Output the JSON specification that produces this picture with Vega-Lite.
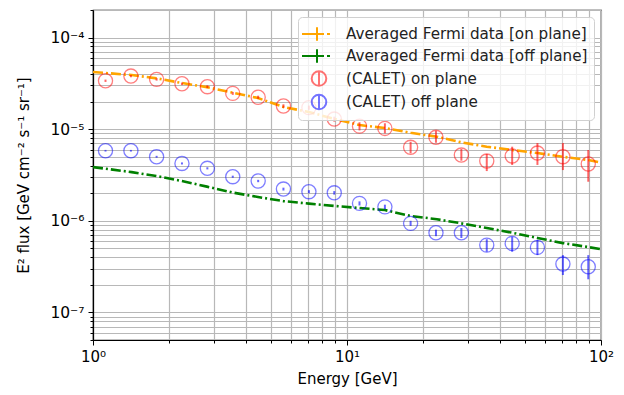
{
  "$schema": "https://vega.github.io/schema/vega-lite/v6.json",
  "width": 508,
  "height": 330,
  "autosize": {"type": "none"},
  "padding": {"left": 93, "top": 10, "right": 23, "bottom": 55},
  "config": {
    "font": "DejaVu Sans",
    "view": {"stroke": "black", "strokeWidth": 1.2},
    "axis": {
      "labelFont": "DejaVu Sans", "titleFont": "DejaVu Sans",
      "labelFontSize": 15, "titleFontSize": 15, "titleFontWeight": "normal",
      "labelColor": "black", "titleColor": "black",
      "gridColor": "#b8b8b8", "gridWidth": 1.2, "gridOpacity": 1,
      "domainColor": "black", "tickColor": "black", "domainWidth": 1.2
    },
    "legend": {"labelFont": "DejaVu Sans", "labelFontSize": 15.2, "labelColor": "#222"}
  },
  "datasets": {
    "fermi": [
      {"E": 1.0, "flux": 4.21e-5, "series": "Averaged Fermi data [on plane]"},
      {"E": 1.42, "flux": 3.90e-5, "series": "Averaged Fermi data [on plane]"},
      {"E": 1.78, "flux": 3.59e-5, "series": "Averaged Fermi data [on plane]"},
      {"E": 2.24, "flux": 3.19e-5, "series": "Averaged Fermi data [on plane]"},
      {"E": 2.81, "flux": 2.88e-5, "series": "Averaged Fermi data [on plane]"},
      {"E": 3.56, "flux": 2.50e-5, "series": "Averaged Fermi data [on plane]"},
      {"E": 4.46, "flux": 2.19e-5, "series": "Averaged Fermi data [on plane]"},
      {"E": 5.61, "flux": 1.75e-5, "series": "Averaged Fermi data [on plane]"},
      {"E": 7.08, "flux": 1.54e-5, "series": "Averaged Fermi data [on plane]"},
      {"E": 8.96, "flux": 1.29e-5, "series": "Averaged Fermi data [on plane]"},
      {"E": 11.2, "flux": 1.11e-5, "series": "Averaged Fermi data [on plane]"},
      {"E": 14.1, "flux": 1.03e-5, "series": "Averaged Fermi data [on plane]"},
      {"E": 17.8, "flux": 9.14e-6, "series": "Averaged Fermi data [on plane]"},
      {"E": 22.6, "flux": 8.28e-6, "series": "Averaged Fermi data [on plane]"},
      {"E": 28.2, "flux": 7.19e-6, "series": "Averaged Fermi data [on plane]"},
      {"E": 35.5, "flux": 6.44e-6, "series": "Averaged Fermi data [on plane]"},
      {"E": 44.7, "flux": 5.93e-6, "series": "Averaged Fermi data [on plane]"},
      {"E": 56.2, "flux": 5.49e-6, "series": "Averaged Fermi data [on plane]"},
      {"E": 70.8, "flux": 5.00e-6, "series": "Averaged Fermi data [on plane]"},
      {"E": 89.1, "flux": 4.60e-6, "series": "Averaged Fermi data [on plane]"},
      {"E": 100, "flux": 4.31e-6, "series": "Averaged Fermi data [on plane]"},
      {"E": 1.0, "flux": 3.86e-6, "series": "Averaged Fermi data [off plane]"},
      {"E": 1.42, "flux": 3.40e-6, "series": "Averaged Fermi data [off plane]"},
      {"E": 1.78, "flux": 3.08e-6, "series": "Averaged Fermi data [off plane]"},
      {"E": 2.24, "flux": 2.72e-6, "series": "Averaged Fermi data [off plane]"},
      {"E": 2.81, "flux": 2.36e-6, "series": "Averaged Fermi data [off plane]"},
      {"E": 3.56, "flux": 2.03e-6, "series": "Averaged Fermi data [off plane]"},
      {"E": 4.46, "flux": 1.82e-6, "series": "Averaged Fermi data [off plane]"},
      {"E": 5.61, "flux": 1.64e-6, "series": "Averaged Fermi data [off plane]"},
      {"E": 7.08, "flux": 1.54e-6, "series": "Averaged Fermi data [off plane]"},
      {"E": 8.96, "flux": 1.45e-6, "series": "Averaged Fermi data [off plane]"},
      {"E": 11.2, "flux": 1.38e-6, "series": "Averaged Fermi data [off plane]"},
      {"E": 14.1, "flux": 1.31e-6, "series": "Averaged Fermi data [off plane]"},
      {"E": 17.8, "flux": 1.13e-6, "series": "Averaged Fermi data [off plane]"},
      {"E": 22.6, "flux": 1.04e-6, "series": "Averaged Fermi data [off plane]"},
      {"E": 28.2, "flux": 9.38e-7, "series": "Averaged Fermi data [off plane]"},
      {"E": 35.5, "flux": 8.34e-7, "series": "Averaged Fermi data [off plane]"},
      {"E": 44.7, "flux": 7.41e-7, "series": "Averaged Fermi data [off plane]"},
      {"E": 56.2, "flux": 6.50e-7, "series": "Averaged Fermi data [off plane]"},
      {"E": 70.8, "flux": 5.71e-7, "series": "Averaged Fermi data [off plane]"},
      {"E": 89.1, "flux": 5.17e-7, "series": "Averaged Fermi data [off plane]"},
      {"E": 100, "flux": 4.89e-7, "series": "Averaged Fermi data [off plane]"}
    ],
    "calet": [
      {"E": 1.12, "flux": 3.38e-5, "lo": 3.28e-5, "hi": 3.48e-5, "series": "(CALET) on plane"},
      {"E": 1.41, "flux": 3.80e-5, "lo": 3.69e-5, "hi": 3.91e-5, "series": "(CALET) on plane"},
      {"E": 1.78, "flux": 3.50e-5, "lo": 3.39e-5, "hi": 3.61e-5, "series": "(CALET) on plane"},
      {"E": 2.24, "flux": 3.13e-5, "lo": 3.03e-5, "hi": 3.23e-5, "series": "(CALET) on plane"},
      {"E": 2.82, "flux": 2.91e-5, "lo": 2.81e-5, "hi": 3.01e-5, "series": "(CALET) on plane"},
      {"E": 3.55, "flux": 2.46e-5, "lo": 2.37e-5, "hi": 2.55e-5, "series": "(CALET) on plane"},
      {"E": 4.47, "flux": 2.23e-5, "lo": 2.14e-5, "hi": 2.32e-5, "series": "(CALET) on plane"},
      {"E": 5.62, "flux": 1.79e-5, "lo": 1.71e-5, "hi": 1.87e-5, "series": "(CALET) on plane"},
      {"E": 7.08, "flux": 1.72e-5, "lo": 1.63e-5, "hi": 1.81e-5, "series": "(CALET) on plane"},
      {"E": 8.91, "flux": 1.29e-5, "lo": 1.21e-5, "hi": 1.37e-5, "series": "(CALET) on plane"},
      {"E": 11.2, "flux": 1.08e-5, "lo": 9.7e-6, "hi": 1.19e-5, "series": "(CALET) on plane"},
      {"E": 14.1, "flux": 1.02e-5, "lo": 9.0e-6, "hi": 1.16e-5, "series": "(CALET) on plane"},
      {"E": 17.8, "flux": 6.34e-6, "lo": 5.45e-6, "hi": 7.29e-6, "series": "(CALET) on plane"},
      {"E": 22.4, "flux": 8.15e-6, "lo": 7.11e-6, "hi": 9.62e-6, "series": "(CALET) on plane"},
      {"E": 28.2, "flux": 5.22e-6, "lo": 4.53e-6, "hi": 6.08e-6, "series": "(CALET) on plane"},
      {"E": 35.5, "flux": 4.49e-6, "lo": 3.49e-6, "hi": 5.36e-6, "series": "(CALET) on plane"},
      {"E": 44.7, "flux": 5.10e-6, "lo": 4.07e-6, "hi": 6.44e-6, "series": "(CALET) on plane"},
      {"E": 56.2, "flux": 5.49e-6, "lo": 4.07e-6, "hi": 7.06e-6, "series": "(CALET) on plane"},
      {"E": 70.8, "flux": 5.01e-6, "lo": 3.58e-6, "hi": 7.06e-6, "series": "(CALET) on plane"},
      {"E": 89.1, "flux": 4.17e-6, "lo": 2.67e-6, "hi": 5.93e-6, "series": "(CALET) on plane"},
      {"E": 1.12, "flux": 5.82e-6, "lo": 5.7e-6, "hi": 5.94e-6, "series": "(CALET) off plane"},
      {"E": 1.41, "flux": 5.82e-6, "lo": 5.7e-6, "hi": 5.94e-6, "series": "(CALET) off plane"},
      {"E": 1.78, "flux": 5.00e-6, "lo": 4.88e-6, "hi": 5.12e-6, "series": "(CALET) off plane"},
      {"E": 2.24, "flux": 4.23e-6, "lo": 4.12e-6, "hi": 4.34e-6, "series": "(CALET) off plane"},
      {"E": 2.82, "flux": 3.74e-6, "lo": 3.64e-6, "hi": 3.84e-6, "series": "(CALET) off plane"},
      {"E": 3.55, "flux": 3.03e-6, "lo": 2.95e-6, "hi": 3.11e-6, "series": "(CALET) off plane"},
      {"E": 4.47, "flux": 2.72e-6, "lo": 2.64e-6, "hi": 2.80e-6, "series": "(CALET) off plane"},
      {"E": 5.62, "flux": 2.22e-6, "lo": 2.14e-6, "hi": 2.30e-6, "series": "(CALET) off plane"},
      {"E": 7.08, "flux": 2.08e-6, "lo": 2.0e-6, "hi": 2.16e-6, "series": "(CALET) off plane"},
      {"E": 8.91, "flux": 2.02e-6, "lo": 1.93e-6, "hi": 2.11e-6, "series": "(CALET) off plane"},
      {"E": 11.2, "flux": 1.55e-6, "lo": 1.47e-6, "hi": 1.63e-6, "series": "(CALET) off plane"},
      {"E": 14.1, "flux": 1.42e-6, "lo": 1.34e-6, "hi": 1.50e-6, "series": "(CALET) off plane"},
      {"E": 17.8, "flux": 9.38e-7, "lo": 8.8e-7, "hi": 1.0e-6, "series": "(CALET) off plane"},
      {"E": 22.4, "flux": 7.41e-7, "lo": 6.8e-7, "hi": 8.0e-7, "series": "(CALET) off plane"},
      {"E": 28.2, "flux": 7.41e-7, "lo": 6.49e-7, "hi": 8.34e-7, "series": "(CALET) off plane"},
      {"E": 35.5, "flux": 5.43e-7, "lo": 4.6e-7, "hi": 6.3e-7, "series": "(CALET) off plane"},
      {"E": 44.7, "flux": 5.67e-7, "lo": 4.59e-7, "hi": 6.70e-7, "series": "(CALET) off plane"},
      {"E": 56.2, "flux": 5.13e-7, "lo": 4.22e-7, "hi": 6.17e-7, "series": "(CALET) off plane"},
      {"E": 70.8, "flux": 3.37e-7, "lo": 2.56e-7, "hi": 4.22e-7, "series": "(CALET) off plane"},
      {"E": 89.1, "flux": 3.15e-7, "lo": 2.30e-7, "hi": 4.22e-7, "series": "(CALET) off plane"}
    ]
  },
  "layer": [
    {
      "data": {"name": "fermi"},
      "mark": {"type": "line", "strokeWidth": 2.6, "strokeDash": [10, 3, 2, 3], "clip": true},
      "encoding": {
        "x": {
          "field": "E", "type": "quantitative",
          "scale": {"type": "log", "domain": [1, 100], "nice": false},
          "axis": {
            "title": "Energy [GeV]", "titlePadding": 7,
            "values": [1,2,3,4,5,6,7,8,9,10,20,30,40,50,60,70,80,90,100],
            "labelExpr": "datum.value == 1 ? '10⁰' : datum.value == 10 ? '10¹' : datum.value == 100 ? '10²' : ''",
            "tickSize": {"condition": {"test": "datum.value == 1 || datum.value == 10 || datum.value == 100", "value": 5}, "value": 3},
            "labelPadding": 4, "labelFlush": false, "labelOverlap": false, "grid": true
          }
        },
        "y": {
          "field": "flux", "type": "quantitative",
          "scale": {"type": "log", "domain": [5e-8, 2e-4], "nice": false},
          "axis": {
            "title": "E² flux [GeV cm⁻² s⁻¹ sr⁻¹]", "titlePadding": 18,
            "values": [5e-8,6e-8,7e-8,8e-8,9e-8,1e-7,2e-7,3e-7,4e-7,5e-7,6e-7,7e-7,8e-7,9e-7,1e-6,2e-6,3e-6,4e-6,5e-6,6e-6,7e-6,8e-6,9e-6,1e-5,2e-5,3e-5,4e-5,5e-5,6e-5,7e-5,8e-5,9e-5,1e-4,2e-4],
            "labelExpr": "abs(datum.value/1e-4 - 1) < 1e-6 ? '10⁻⁴' : abs(datum.value/1e-5 - 1) < 1e-6 ? '10⁻⁵' : abs(datum.value/1e-6 - 1) < 1e-6 ? '10⁻⁶' : abs(datum.value/1e-7 - 1) < 1e-6 ? '10⁻⁷' : ''",
            "tickSize": {"condition": {"test": "abs(log(datum.value)/LN10 - round(log(datum.value)/LN10)) < 1e-6", "value": 5}, "value": 3},
            "labelPadding": 4, "labelFontSize": 15.5, "labelOverlap": false, "grid": true
          }
        },
        "color": {
          "field": "series", "type": "nominal",
          "scale": {
            "domain": ["Averaged Fermi data [on plane]", "Averaged Fermi data [off plane]", "(CALET) on plane", "(CALET) off plane"],
            "range": ["#ffa500", "#008000", "#ff0000", "#0000ff"]
          },
          "legend": {
            "title": null, "orient": "top-right", "offset": 7,
            "symbolType": "M-1.3,0H0.9M0.2,-0.68V0.68M1.2,0H1.5",
            "symbolSize": 400, "symbolStrokeWidth": 2, "symbolFillColor": "transparent",
            "labelOffset": 20, "labelLimit": 400, "rowPadding": -0.5, "padding": 6,
            "fillColor": "rgba(255,255,255,0.8)", "strokeColor": "#d0d0d0", "cornerRadius": 4,
            "encode": {
              "symbols": {
                "update": {
                  "shape": {"signal": "indexof(datum.value, 'CALET') >= 0 ? 'M0.4,-0.73A0.73,0.73 0 1,1 0.4,0.73A0.73,0.73 0 1,1 0.4,-0.73M0.4,-0.8V0.8' : 'M-1.3,0H0.9M0.2,-0.68V0.68M1.2,0H1.5'"},
                  "strokeOpacity": {"signal": "indexof(datum.value, 'CALET') >= 0 ? 0.55 : 1"},
                  "fill": {"value": "transparent"}
                }
              }
            }
          }
        },
        "detail": {"field": "series"}
      }
    },
    {
      "data": {"name": "calet"},
      "mark": {"type": "rule", "strokeWidth": 2, "opacity": 0.6},
      "encoding": {
        "x": {"field": "E", "type": "quantitative"},
        "y": {"field": "lo", "type": "quantitative"},
        "y2": {"field": "hi"},
        "color": {"field": "series", "type": "nominal"}
      }
    },
    {
      "data": {"name": "calet"},
      "mark": {"type": "point", "shape": "circle", "filled": false, "size": 200, "strokeWidth": 1.3, "opacity": 0.5},
      "encoding": {
        "x": {"field": "E", "type": "quantitative"},
        "y": {"field": "flux", "type": "quantitative"},
        "color": {"field": "series", "type": "nominal"}
      }
    }
  ]
}
